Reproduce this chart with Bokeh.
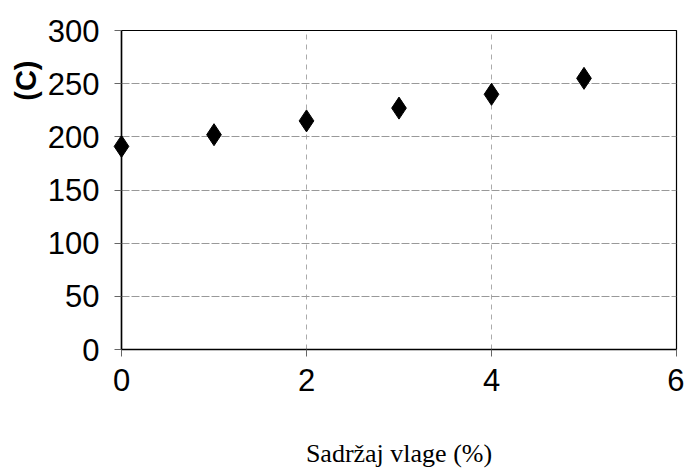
from bokeh.plotting import figure
from bokeh.models import Range1d, FixedTicker, Title
from bokeh.embed import file_html
from bokeh.resources import INLINE

moisture = [0, 1, 2, 3, 4, 5]
temperature = [191, 202, 215, 227, 240, 255]
x_ticks = [0, 2, 4, 6]
y_ticks = [0, 50, 100, 150, 200, 250, 300]

p = figure(width=684, height=472, output_backend="svg", toolbar_location=None,
           x_range=Range1d(0, 6), y_range=Range1d(0, 300),
           min_border_left=121, min_border_top=30, min_border_right=8, min_border_bottom=123)

p.scatter(moisture, temperature, marker="diamond", size=22, color="black", level="overlay")

p.xaxis.ticker = FixedTicker(ticks=x_ticks)
p.yaxis.ticker = FixedTicker(ticks=y_ticks)
for ax in (p.xaxis, p.yaxis):
    ax.axis_line_color = "black"
    ax.axis_line_width = 1.5
    ax.major_tick_out = 7
    ax.major_tick_in = 0
    ax.major_tick_line_color = "#666666"
    ax.minor_tick_line_color = None
    ax.major_label_text_font = "Liberation Sans"
    ax.major_label_text_font_size = "31px"
    ax.major_label_text_color = "black"
p.xaxis.major_label_standoff = 12
p.yaxis.major_label_standoff = 15

p.xaxis.axis_label = "Sadržaj vlage (%)"
p.xaxis.axis_label_text_font = "Liberation Serif"
p.xaxis.axis_label_text_font_style = "normal"
p.xaxis.axis_label_text_font_size = "26px"
p.xaxis.axis_label_text_color = "black"
p.xaxis.axis_label_standoff = 45

p.add_layout(Title(text="(C)", align="right", offset=30, text_font="Liberation Sans",
                   text_font_size="29px", text_font_style="bold", text_color="black",
                   standoff=6), "left")

p.ygrid.grid_line_color = "#999999"
p.ygrid.grid_line_dash = "8 2"
p.ygrid.grid_line_width = 1.2
p.xgrid.grid_line_color = "#aaaaaa"
p.xgrid.grid_line_dash = "5 5"
p.xgrid.grid_line_width = 1

p.outline_line_color = "black"
p.outline_line_width = 1.2
p.background_fill_color = "white"
p.border_fill_color = "white"

open("out.html", "w").write(file_html(p, INLINE))
